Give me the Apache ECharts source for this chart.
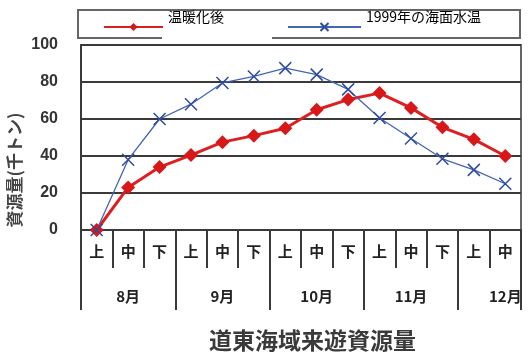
<!DOCTYPE html>
<html>
<head>
<meta charset="utf-8">
<script src="https://cdn.jsdelivr.net/npm/echarts@6/dist/echarts.min.js"></script>
<style>
html,body{margin:0;padding:0;background:#fff;}
#main{width:530px;height:358px;}
</style>
</head>
<body>
<div id="main"></div>
<script>
// ---- data ----
var months = ['8月', '9月', '10月', '11月', '12月'];
var monthSpans = [3, 3, 3, 3, 2];
var periods = ['上', '中', '下'];
var yTicks = [0, 20, 40, 60, 80, 100];
var seriesNames = ['温暖化後', '1999年の海面水温'];
var warmed = [0, 23, 34, 40.5, 47.5, 51, 55, 65, 70.5, 74, 66, 55.5, 49, 40];
var sst1999 = [0, 38, 60, 68, 79.5, 83, 87.5, 84, 76, 60.5, 49.5, 38.5, 32.5, 25];
var titleText = '道東海域来遊資源量';
var yName = '資源量(千トン)';

// ---- derived categories ----
var subCats = [], monthCats = [], monthStart = [], monthMid = [];
months.forEach(function (m, k) {
  var start = subCats.length;
  monthStart.push(start);
  for (var j = 0; j < monthSpans[k]; j++) {
    subCats.push(periods[j]);
    monthCats.push(m);
  }
  monthMid.push(start + (monthSpans[k] === 3 ? 1 : monthSpans[k] - 1));
});

var dark = '#3a3a3a';
var cjk = '"Noto Sans CJK JP", sans-serif';
var xPath = 'path://M0,0L10,10M10,0L0,10';
var legendText = {
  formatter: '{t|{name}}',
  textStyle: { rich: { t: { fontFamily: cjk, fontSize: 14, lineHeight: 14, color: '#000', padding: [0, 0, 20, 0] } } }
};

var chart = echarts.init(document.getElementById('main'));
chart.setOption({
  animation: false,
  backgroundColor: '#fff',
  title: {
    text: titleText,
    left: 209, top: 329, padding: 0,
    textStyle: { fontFamily: cjk, fontSize: 23, fontWeight: 'bold', color: '#3a3a3a' }
  },
  graphic: [
    { type: 'rect', z: -1, shape: { x: 78, y: 10, width: 442, height: 28 },
      style: { fill: '#fff', stroke: '#666', lineWidth: 2 } },
    { type: 'rect', z: 0, shape: { x: 162, y: 12, width: 110, height: 28 },
      style: { fill: '#fff' } },
    { type: 'text', x: 15, y: 170, rotation: Math.PI / 2,
      style: { text: yName, font: 'bold 17px "Noto Sans CJK JP", sans-serif',
               fill: '#444', textAlign: 'center', textVerticalAlign: 'middle' } }
  ],
  legend: [
    echarts.util.merge({ data: [seriesNames[0]], left: 103, top: 10, itemWidth: 59, itemHeight: 10, padding: 0 }, legendText, true),
    echarts.util.merge({ data: [seriesNames[1]], left: 287, top: 10, itemWidth: 73, itemHeight: 10, padding: 0 }, legendText, true)
  ],
  grid: { left: 81, right: 9, top: 45, bottom: 128, show: true, borderColor: '#666', borderWidth: 2 },
  xAxis: [
    {
      type: 'category', data: subCats, boundaryGap: true, position: 'bottom',
      axisLine: { show: true, lineStyle: { color: dark, width: 2 } },
      axisTick: { show: true, interval: 0, length: 38, lineStyle: { color: dark, width: 2 } },
      axisLabel: { interval: 0, margin: 14, fontFamily: cjk, fontSize: 15, fontWeight: 'bold', color: '#222' },
      splitLine: { show: false }
    },
    {
      type: 'category', data: monthCats, boundaryGap: true, position: 'bottom', gridIndex: 0,
      axisLine: { show: false },
      axisTick: { show: true, length: 80, lineStyle: { color: dark, width: 2 },
        interval: function (i) { return monthStart.indexOf(i) >= 0; } },
      axisLabel: { margin: 59, fontFamily: cjk, fontSize: 15, fontWeight: 'bold', color: '#222',
        interval: function (i) { return monthMid.indexOf(i) >= 0; } },
      splitLine: { show: false }
    }
  ],
  yAxis: {
    type: 'value', min: yTicks[0], max: yTicks[yTicks.length - 1], interval: yTicks[1] - yTicks[0],
    axisLine: { show: true, lineStyle: { color: dark, width: 2 } },
    axisTick: { show: false },
    axisLabel: { margin: 23, fontFamily: 'Liberation Sans, Arial, sans-serif', fontSize: 16, fontWeight: 'bold', color: '#333' },
    splitLine: { show: true, lineStyle: { color: dark, width: 2 } }
  },
  series: [
    {
      name: seriesNames[0], type: 'line', data: warmed, xAxisIndex: 0,
      symbol: 'diamond', symbolSize: 14,
      lineStyle: { color: '#dd1f1f', width: 3 },
      itemStyle: { color: '#d81818' }
    },
    {
      name: seriesNames[1], type: 'line', data: sst1999, xAxisIndex: 0,
      symbol: xPath, symbolSize: 12,
      lineStyle: { color: '#4464b4', width: 1.3 },
      itemStyle: { color: '#2e4c9e', borderColor: '#2e4c9e', borderWidth: 1.5 }
    }
  ]
});
</script>
</body>
</html>
